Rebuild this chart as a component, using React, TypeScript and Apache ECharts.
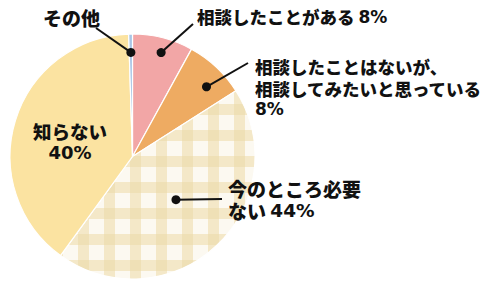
import React, { useEffect, useRef } from "react";
import * as echarts from "echarts";

const categories = [
  "相談したことがある",
  "相談したことはないが、相談してみたいと思っている",
  "今のところ必要ない",
  "知らない",
  "その他",
];
const values = [8, 8, 44, 39.5, 0.5];
const labelLines = [
  ["相談したことがある {n|8%}"],
  ["相談したことはないが、", "相談してみたいと思っている", "{n|8%}"],
  ["今のところ必要", "ない {n|44%}"],
  ["知らない", "{n|40%}"],
  ["その他"],
];

const CX = 132.5;
const CY = 156.5;
const R = 122.5;
const FONT = '"Noto Sans CJK JP", "Noto Sans", sans-serif';
const NUMFONT = '"DejaVu Sans", sans-serif';

// annotation layout: dot radial fraction / angle offset, line end, text line centres
const layout = [
  { dot: { f: 0.88, da: 1 }, end: [193, 24], text: { x: 197, ys: [16.5], size: 17.5, align: "left" } },
  { dot: { f: 0.83, da: 3.5 }, end: [248, 63], text: { x: 255, ys: [66, 88.5, 109], size: 17.5, align: "left" } },
  { dot: { f: 0.5, da: -2 }, end: [222, 199], text: { x: 228, ys: [188, 210], size: 19, align: "left" } },
  { dot: null, end: null, text: { x: 70, ys: [131, 152.5], size: 18.5, align: "center" } },
  { dot: { f: 0.85, da: 0 }, end: [96, 28], text: { x: 43, ys: [17.5], size: 19, align: "left" } },
];

function makeGingham(): string {
  const s = 26;
  const b = 11;
  const c = document.createElement("canvas");
  c.width = s;
  c.height = s;
  const ctx = c.getContext("2d")!;
  ctx.fillStyle = "#fcf9f1";
  ctx.fillRect(0, 0, s, s);
  ctx.fillStyle = "#f4e8c8";
  ctx.fillRect(0, 0, b, s);
  ctx.fillRect(0, 0, s, b);
  ctx.fillStyle = "#efe0b6";
  ctx.fillRect(0, 0, b, b);
  return c.toDataURL();
}

export default function App() {
  const ref = useRef<HTMLDivElement>(null);
  useEffect(() => {
    if (!ref.current) return;
    const chart = echarts.init(ref.current, undefined, { renderer: "svg" });
    const colors = ["#f2a6a6", "#eeab62", { image: makeGingham(), repeat: "repeat" }, "#fbe3a1", "#a9c6e6"];
    const total = values.reduce((a, b) => a + b, 0);
    const graphics: any[] = [];
    let acc = 0;
    values.forEach((v, i) => {
      const start = (acc / total) * 360;
      acc += v;
      const end = (acc / total) * 360;
      const mid = (start + end) / 2;
      const L = layout[i];
      if (L.dot) {
        const a = ((mid + L.dot.da) * Math.PI) / 180;
        const dx = CX + R * L.dot.f * Math.sin(a);
        const dy = CY - R * L.dot.f * Math.cos(a);
        if (L.end) {
          graphics.push({
            type: "line",
            silent: true,
            shape: { x1: dx, y1: dy, x2: L.end[0], y2: L.end[1] },
            style: { stroke: "#111", lineWidth: 2 },
            z: 10,
          });
        }
        graphics.push({
          type: "circle",
          silent: true,
          shape: { cx: dx, cy: dy, r: 4.5 },
          style: { fill: "#111" },
          z: 11,
        });
      }
      labelLines[i].forEach((line, j) => {
        graphics.push({
          type: "text",
          silent: true,
          x: L.text.x,
          y: L.text.ys[j],
          z: 12,
          style: {
            text: line,
            fill: "#111",
            fontSize: L.text.size,
            fontWeight: 900,
            fontFamily: FONT,
            align: L.text.align,
            verticalAlign: "middle",
            rich: {
              n: {
                fontFamily: NUMFONT,
                fontWeight: "bold",
                fontSize: L.text.size - 0.5,
                fill: "#111",
              },
            },
          },
        });
      });
    });

    chart.setOption({
      animation: false,
      graphic: graphics,
      series: [
        {
          type: "pie",
          center: [CX, CY],
          radius: [0, R],
          startAngle: 90,
          clockwise: true,
          silent: true,
          label: { show: false },
          labelLine: { show: false },
          itemStyle: { borderColor: "#ffffff", borderWidth: 1.2 },
          data: categories.map((name, i) => ({
            name,
            value: values[i],
            itemStyle: { color: colors[i] },
          })),
        },
      ],
    });
    return () => chart.dispose();
  }, []);
  return (
    <div
      ref={ref}
      style={{ position: "fixed", left: 0, top: 0, width: 484, height: 281, background: "#fff" }}
    />
  );
}
